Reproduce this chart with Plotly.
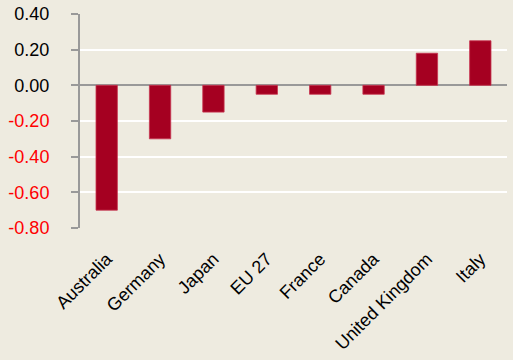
import plotly.graph_objects as go

# Change by country
countries = ["Australia", "Germany", "Japan", "EU 27", "France", "Canada",
             "United Kingdom", "Italy"]
values = [-0.70, -0.30, -0.15, -0.05, -0.05, -0.05, 0.18, 0.25]

# Y-axis ticks: negative labels shown in red
y_ticks = [0.4, 0.2, 0.0, -0.2, -0.4, -0.6, -0.8]
y_labels = ["0.40", "0.20", "0.00", "-0.20", "-0.40", "-0.60", "-0.80"]

BG = "#EEEBE0"
BAR = "#A50021"

ticktext = [
    f"<span style='color:#FF0000'>{t}</span>" if v < 0 else t
    for v, t in zip(y_ticks, y_labels)
]

fig = go.Figure(
    go.Bar(
        x=countries,
        y=values,
        marker=dict(color=BAR, line=dict(color="#C8334F", width=0.8)),
    )
)

fig.update_layout(
    width=513,
    height=360,
    margin=dict(l=80, r=6, t=14, b=132, autoexpand=False),
    paper_bgcolor=BG,
    plot_bgcolor=BG,
    bargap=0.6,
    showlegend=False,
    font=dict(family="Liberation Sans, Arial, sans-serif", size=18, color="#000000"),
)

fig.update_xaxes(
    tickangle=-45,
    showgrid=False,
    showline=False,
    ticks="",
    tickfont=dict(size=18),
    ticklabelstandoff=16,
    automargin=False,
)

fig.update_yaxes(
    range=[-0.8, 0.4],
    tickvals=y_ticks,
    ticktext=ticktext,
    tickfont=dict(size=18),
    showgrid=True,
    gridcolor="#FFFFFF",
    gridwidth=2,
    zeroline=True,
    zerolinecolor="#999999",
    zerolinewidth=2,
    showline=True,
    linecolor="#999999",
    linewidth=2,
    ticks="outside",
    ticklen=7,
    tickwidth=2,
    tickcolor="#999999",
    ticklabelstandoff=18,
    automargin=False,
)

fig.write_html("out.html")
